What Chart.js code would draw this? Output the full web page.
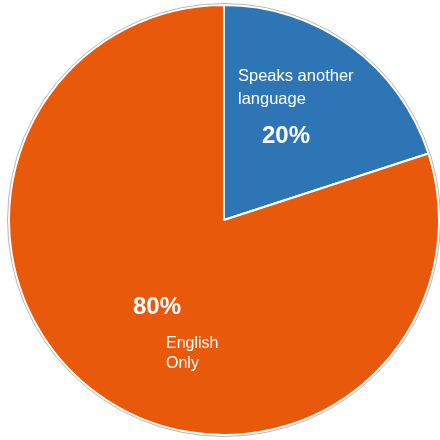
<!DOCTYPE html>
<html>
<head>
<meta charset="utf-8">
<script src="https://cdn.jsdelivr.net/npm/chart.js@4"></script>
<style>
  html, body { margin: 0; padding: 0; background: #fff; }
  #wrap { width: 440px; height: 440px; }
</style>
</head>
<body>
<div id="wrap"><canvas id="pie"></canvas></div>
<script>
const categories = ["Speaks another language", "English Only"];
const values = [20, 80];
const percentLabels = ["20%", "80%"];
const nameLines = [["Speaks another", "language"], ["English", "Only"]];
const colors = ["#2E75B6", "#E8590C"];

// draws the thin grey rim and the in-slice labels
const labelPlugin = {
    id: "sliceLabels",
    afterDatasetsDraw(chart) {
        const ctx = chart.ctx;
        const arcs = chart.getDatasetMeta(0).data;
        const cx = arcs[0].x, cy = arcs[0].y, r = arcs[0].outerRadius;

        ctx.save();
        ctx.strokeStyle = "#b8b8b8";
        ctx.lineWidth = 1;
        ctx.beginPath();
        ctx.arc(cx, cy, r + 1.5, 0, Math.PI * 2);
        ctx.stroke();

        ctx.fillStyle = "#ffffff";
        ctx.textBaseline = "middle";
        ctx.textAlign = "left";

        // blue slice
        ctx.font = "16.5px 'Liberation Sans', Arial, sans-serif";
        ctx.fillText(nameLines[0][0], cx + 14, cy - 144);
        ctx.fillText(nameLines[0][1], cx + 14, cy - 121);
        ctx.font = "bold 24px 'Liberation Sans', Arial, sans-serif";
        ctx.fillText(percentLabels[0], cx + 38, cy - 84);

        // orange slice
        ctx.fillText(percentLabels[1], cx - 91, cy + 87);
        ctx.font = "16px 'Liberation Sans', Arial, sans-serif";
        ctx.fillText(nameLines[1][0], cx - 58, cy + 124);
        ctx.fillText(nameLines[1][1], cx - 58, cy + 144);
        ctx.restore();
    }
};

new Chart(document.getElementById("pie"), {
    type: "pie",
    data: {
        labels: categories,
        datasets: [{
            data: values,
            backgroundColor: colors,
            borderColor: "#ffffff",
            borderWidth: 2
        }]
    },
    options: {
        responsive: true,
        maintainAspectRatio: false,
        animation: false,
        layout: { padding: { left: 8, right: 0, top: 3, bottom: 3 } },
        plugins: {
            legend: { display: false },
            tooltip: { enabled: false }
        }
    },
    plugins: [labelPlugin]
});
</script>
</body>
</html>
